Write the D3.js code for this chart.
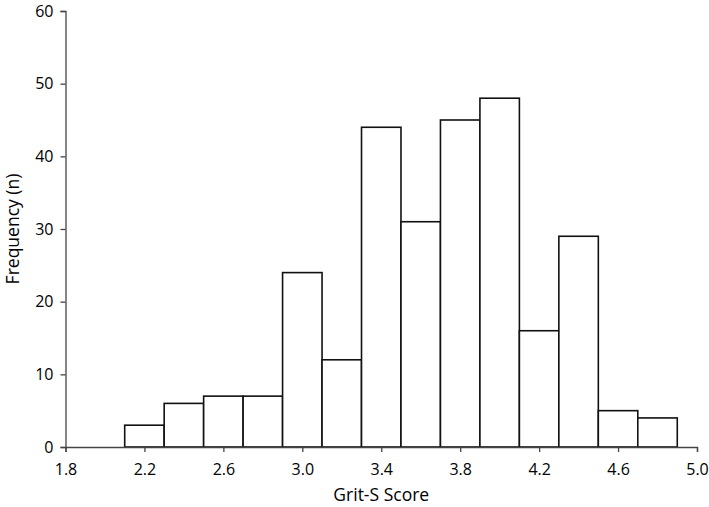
<!DOCTYPE html>
<html>
<head>
<meta charset="utf-8">
<script src="https://cdn.jsdelivr.net/npm/d3@7"></script>
<style>
  body { margin: 0; background: #fff; }
  svg text { font-family: "Open Sans", Lato, sans-serif; fill: #000; }
</style>
</head>
<body>
<div id="chart"></div>
<script>
// histogram bins (lower edge) and counts
const binStarts = [2.1, 2.3, 2.5, 2.7, 2.9, 3.1, 3.3, 3.5, 3.7, 3.9, 4.1, 4.3, 4.5, 4.7];
const binWidth = 0.2;
const counts = [3, 6, 7, 7, 24, 12, 44, 31, 45, 48, 16, 29, 5, 4];
const xTicks = [1.8, 2.2, 2.6, 3.0, 3.4, 3.8, 4.2, 4.6, 5.0];
const yTicks = [0, 10, 20, 30, 40, 50, 60];

const width = 709, height = 507;
const margin = {top: 11, right: 12, bottom: 60, left: 65};

const svg = d3.select('#chart').append('svg')
  .attr('width', width)
  .attr('height', height);

const x = d3.scaleLinear()
  .domain([1.8, 5.0])
  .range([margin.left + 0.5, width - margin.right]);

const y = d3.scaleLinear()
  .domain([0, 60])
  .range([height - margin.bottom, margin.top]);

const bins = binStarts.map((s, i) => ({x0: s, x1: s + binWidth, n: counts[i]}));

svg.append('g')
  .selectAll('rect')
  .data(bins)
  .enter()
  .append('rect')
  .attr('x', d => x(d.x0))
  .attr('y', d => y(d.n))
  .attr('width', d => x(d.x1) - x(d.x0))
  .attr('height', d => y(0) - y(d.n))
  .attr('fill', '#fff')
  .attr('stroke', '#111')
  .attr('stroke-width', 1.6);

const xAxis = svg.append('g')
  .attr('transform', `translate(0,${y(0)})`)
  .call(d3.axisBottom(x).tickValues(xTicks).tickFormat(d3.format('.1f')).tickSizeOuter(0).tickSize(5));

const yAxis = svg.append('g')
  .attr('transform', `translate(${margin.left + 0.5},0)`)
  .call(d3.axisLeft(y).tickValues(yTicks).tickSizeOuter(0).tickSize(5));

[xAxis, yAxis].forEach(g => {
  g.select('.domain').attr('stroke', '#444').attr('stroke-width', 1.3);
  g.selectAll('.tick line').attr('stroke', '#444').attr('stroke-width', 1.3);
  g.selectAll('.tick text').style('font-size', '16px').attr('fill', '#000');
});
xAxis.selectAll('.tick text').attr('dy', '1.25em');
yAxis.selectAll('.tick text').attr('x', -12);

svg.append('text')
  .attr('x', (x(1.8) + x(5.0)) / 2)
  .attr('y', 501)
  .attr('text-anchor', 'middle')
  .style('font-size', '17.5px')
  .text('Grit-S Score');

svg.append('text')
  .attr('transform', `translate(19,${(y(0) + y(60)) / 2}) rotate(-90)`)
  .attr('text-anchor', 'middle')
  .style('font-size', '17.5px')
  .text('Frequency (n)');
</script>
</body>
</html>
